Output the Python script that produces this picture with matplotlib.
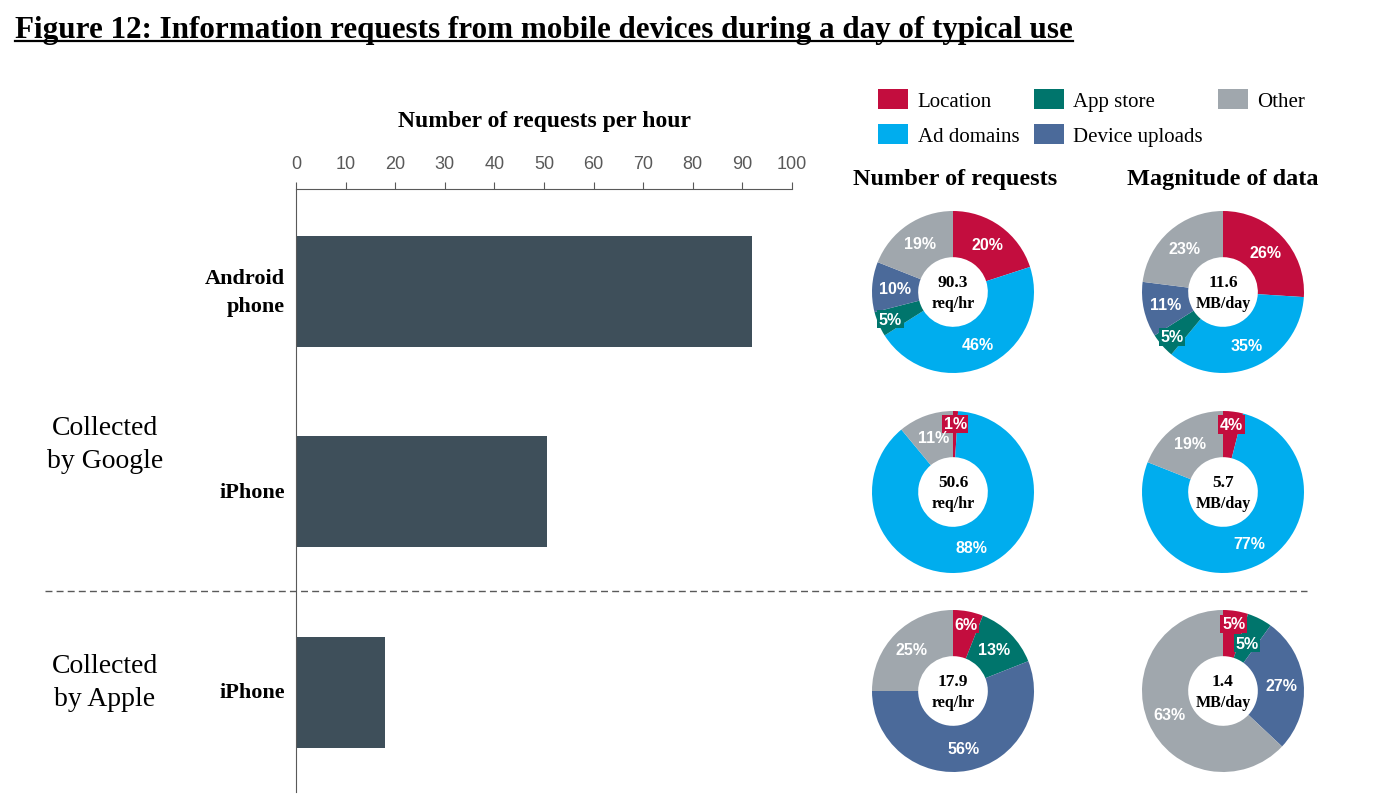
import math
import matplotlib
matplotlib.use("Agg")
import matplotlib.pyplot as plt
from matplotlib.lines import Line2D
from matplotlib.patches import Patch

# ---- data ----
devices = ["Android\nphone", "iPhone", "iPhone"]
groups = ["Collected\nby Google", "Collected\nby Apple"]
requests_per_hour = [91.9, 50.6, 17.9]

categories = ["Location", "Ad domains", "App store", "Device uploads", "Other"]
colors = ["#C30D3E", "#00ADEE", "#00756C", "#4B6A9A", "#A0A7AD"]

# shares in the order of categories
req_shares = [
    [20, 46, 5, 10, 19],
    [1, 88, 0, 0, 11],
    [6, 0, 13, 56, 25],
]
mag_shares = [
    [26, 35, 5, 11, 23],
    [4, 77, 0, 0, 19],
    [5, 0, 5, 27, 63],
]
req_totals = ["90.3", "50.6", "17.9"]
mag_totals = ["11.6", "5.7", "1.4"]
req_unit = "req/hr"
mag_unit = "MB/day"

W, H = 1373, 803
SERIF = "Liberation Serif"
SANS = "Liberation Sans"
BAR_COLOR = "#3E4F5A"

fig = plt.figure(figsize=(W / 100, H / 100), dpi=100)


def px_rect(x0, y0, x1, y1):
    # pixel box (top-left origin) -> figure fraction rect
    return [x0 / W, 1 - y1 / H, (x1 - x0) / W, (y1 - y0) / H]


# ---- title ----
title = fig.text(15 / W, 1 - 38 / H,
                 "Figure 12: Information requests from mobile devices during a day of typical use",
                 family=SERIF, weight="bold", fontsize=22.4, va="baseline", ha="left")
fig.canvas.draw()
bb = title.get_window_extent(fig.canvas.get_renderer())
fig.add_artist(Line2D([bb.x0 / W, bb.x1 / W], [1 - 42 / H, 1 - 42 / H],
                      color="black", lw=1.6, transform=fig.transFigure))

# ---- bar chart ----
ax = fig.add_axes(px_rect(296, 190, 792, 793))
ypos = list(range(len(requests_per_hour)))
ax.barh(ypos, requests_per_hour, height=0.555, color=BAR_COLOR)
ax.set_xlim(0, 100)
ax.set_ylim(2.5, -0.515)
ax.xaxis.tick_top()
ax.set_xticks(range(0, 101, 10))
ax.tick_params(axis="x", direction="out", length=5, width=0.8, color="#595959",
               labelcolor="#595959", labelsize=13, pad=7)
for lab in ax.get_xticklabels():
    lab.set_family(SANS)
ax.set_yticks([])
for side in ["right", "bottom"]:
    ax.spines[side].set_visible(False)
for side in ["top", "left"]:
    ax.spines[side].set_color("#595959")
    ax.spines[side].set_linewidth(0.8)
fig.text(545 / W, 1 - 122 / H, "Number of requests per hour", family=SERIF,
         weight="bold", fontsize=17, ha="center", va="center")

for y, name in zip(ypos, devices):
    ax.text(-2.2, y, name, family=SERIF, weight="bold", fontsize=16,
            ha="right", va="center", linespacing=1.55,
            transform=ax.transData, clip_on=False)

# group labels, set beside their bars
group_y = [0.76, 1.95]
for g, yc in zip(groups, group_y):
    ax.text(-38.5, yc, g, family=SERIF, fontsize=20, ha="center", va="center",
            linespacing=1.4, clip_on=False)

# dashed separator
fig.add_artist(Line2D([45 / W, 1307 / W], [1 - 592 / H, 1 - 592 / H], color="#595959",
                      lw=1, ls=(0, (5, 3)), transform=fig.transFigure))

# ---- legend ----
handles = [Patch(facecolor=c, edgecolor="none") for c in colors]
fig.legend(handles, categories, loc="upper left",
           bbox_to_anchor=(878 / W, 1 - 90 / H), ncol=3, frameon=False,
           prop={"family": SERIF, "size": 15}, handlelength=1.45, handleheight=1.1,
           handletextpad=0.45, columnspacing=0.7, labelspacing=0.62,
           borderaxespad=0, borderpad=0)

# ---- donut charts ----
fig.text(955 / W, 1 - 180 / H, "Number of requests", family=SERIF, weight="bold",
         fontsize=17.5, ha="center", va="center")
fig.text(1223 / W, 1 - 180 / H, "Magnitude of data", family=SERIF, weight="bold",
         fontsize=17.5, ha="center", va="center")

col_x = [953, 1223]
row_y = [293, 493, 692]
R = 81


def donut(cx, cy, shares, total, unit):
    pax = fig.add_axes(px_rect(cx - R, cy - R, cx + R, cy + R))
    vals = [v for v in shares if v > 0]
    cols = [c for v, c in zip(shares, colors) if v > 0]
    pax.pie(vals, colors=cols, startangle=90, counterclock=False, radius=1,
            wedgeprops=dict(width=0.57, linewidth=0))
    pax.set_xlim(-1, 1)
    pax.set_ylim(-1, 1)
    pax.set_aspect("equal")
    pax.axis("off")
    cum = 0
    prev_small = False
    s = sum(vals)
    for v, c in zip(vals, cols):
        mid = 90 - 360 * (cum + v / 2) / s
        small = v <= 6
        if small and prev_small:
            d = 0.66
        elif small:
            d = 0.84
        else:
            d = 0.72
        x = d * math.cos(math.radians(mid))
        y = d * math.sin(math.radians(mid))
        kw = {}
        if small:
            kw["bbox"] = dict(boxstyle="square,pad=0.1", facecolor=c, edgecolor="none")
        pax.text(x, y, f"{v}%", color="white", family=SANS, weight="bold",
                 fontsize=11.5, ha="center", va="center", **kw)
        prev_small = small
        cum += v
    pax.text(0, 0.12, total, family=SERIF, weight="bold", fontsize=12.5,
             ha="center", va="center")
    pax.text(0, -0.14, unit, family=SERIF, weight="bold", fontsize=11.5,
             ha="center", va="center")


for i in range(3):
    donut(col_x[0], row_y[i], req_shares[i], req_totals[i], req_unit)
    donut(col_x[1], row_y[i], mag_shares[i], mag_totals[i], mag_unit)

fig.savefig("out.png", dpi=100)
